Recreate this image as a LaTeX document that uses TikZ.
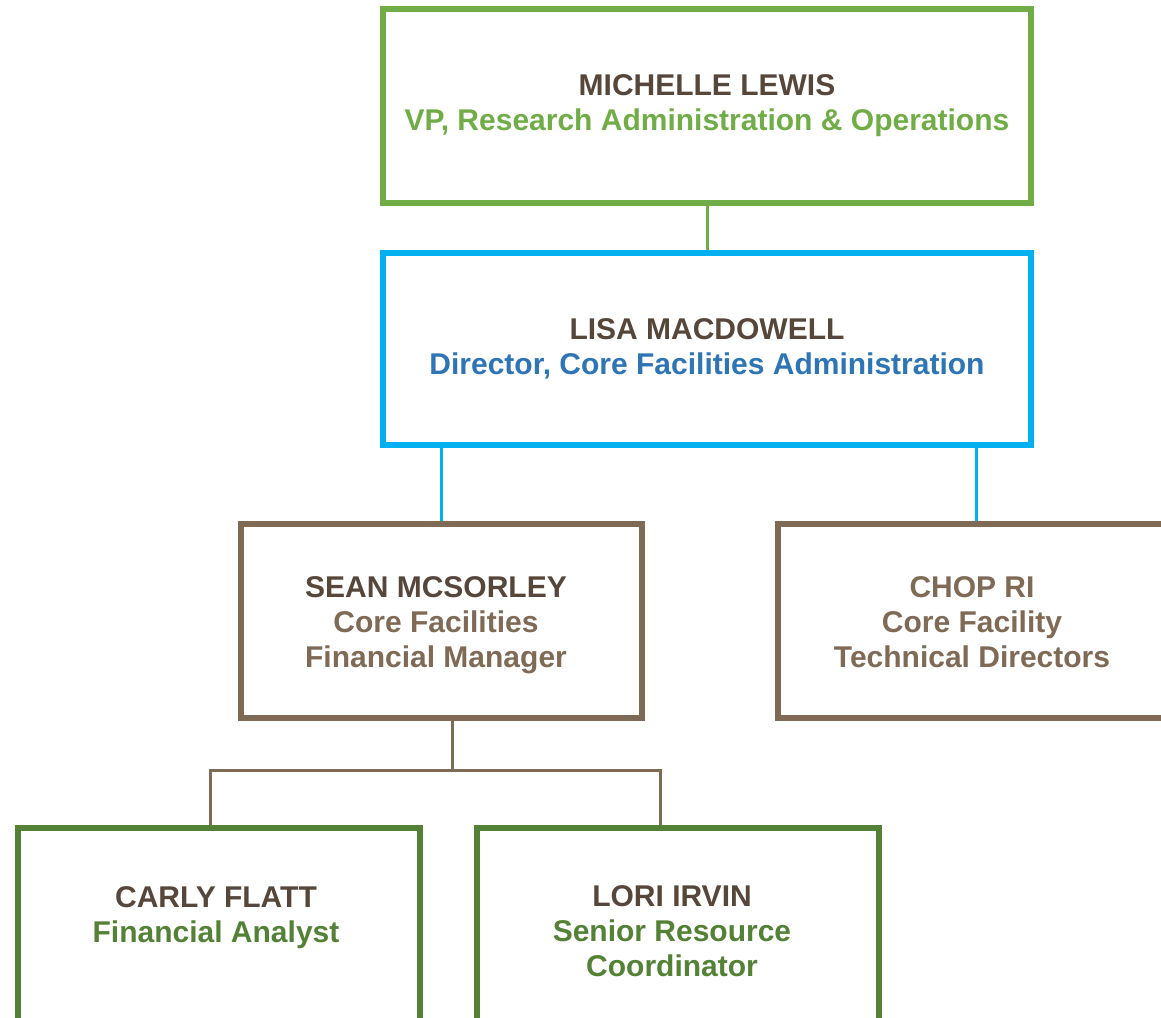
\documentclass[tikz,border=0pt]{standalone}
\usepackage{fontspec}
\setmainfont{Liberation Sans}
\definecolor{vpgreen}{RGB}{112,173,71}
\definecolor{namebrown}{RGB}{87,71,58}
\definecolor{skyblue}{RGB}{0,176,240}
\definecolor{dirblue}{RGB}{46,117,182}
\definecolor{boxbrown}{RGB}{127,106,86}
\definecolor{leafgreen}{RGB}{83,129,53}
\newcommand{\who}[1]{{\color{namebrown}#1}}
\tikzset{
  orgbox/.style={draw, line width=6pt, fill=white, inner sep=0pt, align=center,
    font=\fontsize{30}{35}\selectfont\bfseries},
  orgtext/.style={inner sep=0pt, align=center, font=\fontsize{30}{35}\selectfont\bfseries},
  link/.style={line width=3pt}
}
\begin{document}
\begin{tikzpicture}[x=1pt,y=1pt]
  \useasboundingbox (0,0) rectangle (1161,-1017);
  % top level
  \node[orgbox, draw=vpgreen, text=vpgreen, minimum width=648, minimum height=194]
    (vp) at (707,-106) {\who{MICHELLE LEWIS}\\VP, Research Administration \& Operations};
  \node[orgbox, draw=skyblue, text=dirblue, minimum width=648, minimum height=192]
    (dir) at (707,-349) {\who{LISA MACDOWELL}\\Director, Core Facilities Administration};
  % middle row
  \node[orgbox, draw=boxbrown, minimum width=401, minimum height=194]
    (sean) at (441.5,-621) {};
  \node[orgbox, draw=boxbrown, text=boxbrown, minimum width=396, minimum height=194]
    (chop) at (976,-621) {};
  \node[orgtext, text=boxbrown] (sean-txt) at (436,-625) {\who{SEAN MCSORLEY}\\Core Facilities\\Financial Manager};
  \node[orgtext, text=boxbrown] (chop-txt) at (972,-622) {CHOP RI\\Core Facility\\Technical Directors};
  % bottom row (boxes run off the page)
  \node[orgbox, draw=leafgreen, anchor=north, minimum width=402, minimum height=240]
    (carly) at (219,-825) {};
  \node[orgbox, draw=leafgreen, anchor=north, minimum width=402, minimum height=240]
    (lori) at (678,-825) {};
  \node[orgtext, text=leafgreen] (carly-txt) at (216,-918) {\who{CARLY FLATT}\\Financial Analyst};
  \node[orgtext, text=leafgreen] (lori-txt) at (672,-931) {\who{LORI IRVIN}\\Senior Resource\\Coordinator};

  % connectors
  \draw[link, vpgreen] (vp) -- (dir);
  \draw[link, skyblue] (sean.north |- dir.south) -- (sean.north);
  \draw[link, skyblue] (chop.north |- dir.south) -- (chop.north);
  \coordinate (fork) at (452,-770);
  \draw[link, boxbrown] ([xshift=10.5]sean.south) -- (fork);
  \draw[link, boxbrown] ([xshift=-9]carly.north) |- (fork) -| ([xshift=-18]lori.north);
\end{tikzpicture}
\end{document}
